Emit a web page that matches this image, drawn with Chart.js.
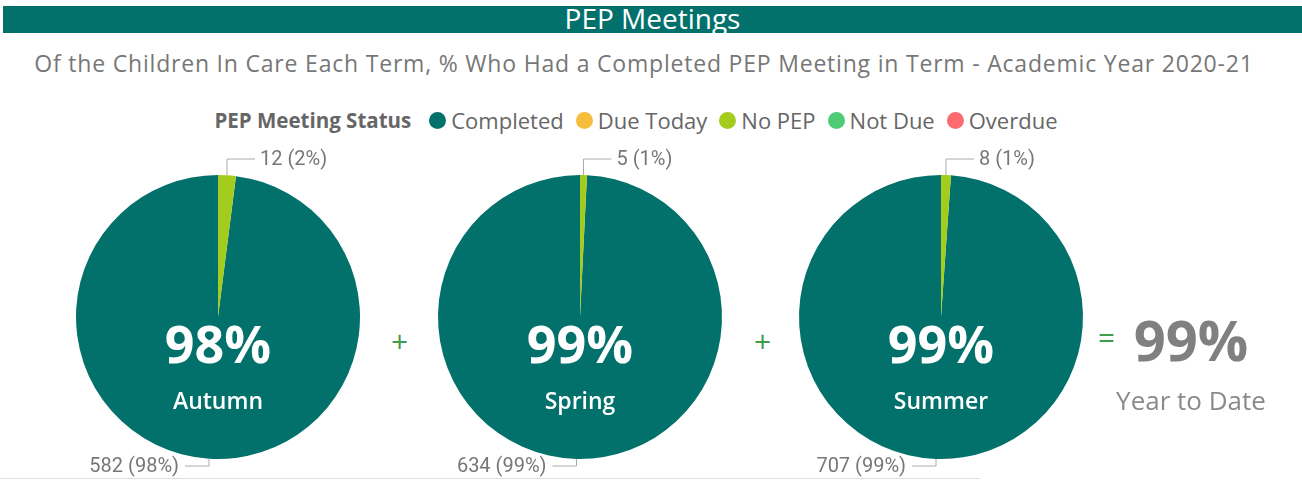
<!DOCTYPE html>
<html>
<head>
<meta charset="utf-8">
<script src="https://cdn.jsdelivr.net/npm/chart.js@4"></script>
<style>
  html, body { margin: 0; padding: 0; background: #fff; }
  body { width: 1302px; height: 481px; position: relative; overflow: hidden; font-family: "Open Sans", sans-serif; }
  #header { position: absolute; left: 3px; top: 6px; width: 1299px; height: 27px; background: #03716B;
            color: #fff; font-size: 28px; line-height: 24px; text-align: center; overflow: visible; }
  #subtitle { position: absolute; left: 0; top: 47px; width: 1288px; text-align: center; color: #777;
              font-size: 23px; letter-spacing: 0.8px; white-space: nowrap; }
  #legend { position: absolute; left: 0; top: 105px; width: 1284px; display: flex; justify-content: center;
            align-items: center; font-size: 22px; color: #666; white-space: nowrap; }
  #legend .ttl { font-weight: bold; font-size: 20.5px; color: #666; margin-right: 18px; }
  #legend .item { display: flex; align-items: center; margin-right: 12px; }
  #legend .dot { width: 17px; height: 17px; border-radius: 50%; margin-right: 5px; }
  canvas { position: absolute; }
  .op { position: absolute; color: #3E9E4B; font-size: 30px; line-height: 30px; }
  #ytd { position: absolute; left: 1100px; top: 304px; width: 182px; text-align: center; color: #808080;
         font-weight: bold; font-size: 56px; line-height: 70px; }
  #ytdLabel { position: absolute; left: 1100px; top: 382px; width: 182px; text-align: center; color: #8a8a8a; font-size: 26px; }
  #rule { position: absolute; left: 0; top: 478px; width: 980px; height: 1px; background: #ddd; }
</style>
</head>
<body>
<div id="header">PEP Meetings</div>
<div id="subtitle">Of the Children In Care Each Term, % Who Had a Completed PEP Meeting in Term - Academic Year 2020-21</div>
<div id="legend"></div>
<canvas id="pie0" width="316" height="340"></canvas>
<canvas id="pie1" width="316" height="340"></canvas>
<canvas id="pie2" width="316" height="340"></canvas>
<div class="op" style="left:391px; top:326px;">+</div>
<div class="op" style="left:754px; top:326px;">+</div>
<div class="op" style="left:1098px; top:322px;">=</div>
<div id="ytd"></div>
<div id="ytdLabel">Year to Date</div>
<div id="rule"></div>
<script>
const terms = ['Autumn', 'Spring', 'Summer'];
const statuses = ['Completed', 'Due Today', 'No PEP', 'Not Due', 'Overdue'];
const statusColors = ['#03716B', '#F5BE3D', '#A3CC1E', '#4FCB73', '#FD6B6F'];
const autumnCounts = [582, 0, 12, 0, 0];
const springCounts = [634, 0, 5, 0, 0];
const summerCounts = [707, 0, 8, 0, 0];
const termCounts = [autumnCounts, springCounts, summerCounts];
const pieCentres = [218, 580, 941];

// legend
const legend = document.getElementById('legend');
legend.innerHTML = '<span class="ttl">PEP Meeting Status</span>' + statuses.map((s, i) =>
  '<span class="item"><span class="dot" style="background:' + statusColors[i] + '"></span>' + s + '</span>').join('');

const sum = arr => arr.reduce((a, b) => a + b, 0);

// leader-line labels outside each slice + centre text
const sliceLabels = {
  id: 'sliceLabels',
  afterDatasetsDraw(chart) {
    const ctx = chart.ctx;
    const data = chart.data.datasets[0].data;
    const total = sum(data);
    const meta = chart.getDatasetMeta(0);
    ctx.save();
    ctx.font = '20px Roboto, sans-serif';
    ctx.textBaseline = 'middle';
    meta.data.forEach((arc, i) => {
      if (!data[i]) return;
      const p = arc.getProps(['x', 'y', 'startAngle', 'endAngle', 'outerRadius'], true);
      const mid = (p.startAngle + p.endAngle) / 2;
      const px = p.x + Math.cos(mid) * p.outerRadius;
      const py = p.y + Math.sin(mid) * p.outerRadius;
      const up = py < p.y;
      const ey = up ? p.y - p.outerRadius - 16 : p.y + p.outerRadius + 7;
      const right = px >= p.x;
      const ex = px + (right ? 28 : -24);
      ctx.strokeStyle = '#aaa';
      ctx.lineWidth = 1;
      ctx.beginPath();
      ctx.moveTo(px, py);
      ctx.lineTo(px, ey);
      ctx.lineTo(ex, ey);
      ctx.stroke();
      ctx.fillStyle = '#777';
      ctx.textAlign = right ? 'left' : 'right';
      const pct = Math.round(data[i] / total * 100);
      ctx.fillText(data[i] + ' (' + pct + '%)', ex + (right ? 5 : -6), ey + 1);
    });
    ctx.restore();
  },
  afterDraw(chart) {
    const ctx = chart.ctx;
    const data = chart.data.datasets[0].data;
    const arc = chart.getDatasetMeta(0).data[0];
    const pct = Math.round(data[0] / sum(data) * 100);
    ctx.save();
    ctx.fillStyle = '#fff';
    ctx.textAlign = 'center';
    ctx.textBaseline = 'middle';
    ctx.font = 'bold 52px "Open Sans", sans-serif';
    ctx.fillText(pct + '%', arc.x, arc.y + 31);
    ctx.font = '600 23px "Open Sans", sans-serif';
    ctx.fillText(chart.options.plugins.termName, arc.x, arc.y + 85);
    ctx.restore();
  }
};

termCounts.forEach((counts, t) => {
  const canvas = document.getElementById('pie' + t);
  canvas.style.left = (pieCentres[t] - 158) + 'px';
  canvas.style.top = '141px';
  const total = sum(counts);
  new Chart(canvas, {
    type: 'pie',
    data: {
      labels: statuses,
      datasets: [{ data: counts, backgroundColor: statusColors, borderWidth: 0 }]
    },
    options: {
      responsive: false,
      animation: false,
      // start the Completed slice where the No PEP slice ends, so No PEP sits just right of 12 o'clock
      rotation: 360 * counts[2] / total,
      layout: { padding: { left: 16, right: 16, top: 34, bottom: 22 } },
      plugins: {
        legend: { display: false },
        tooltip: { enabled: false },
        termName: terms[t]
      }
    },
    plugins: [sliceLabels]
  });
});

const completedAll = sum(termCounts.map(c => c[0]));
const totalAll = sum(termCounts.map(sum));
document.getElementById('ytd').textContent = Math.round(completedAll / totalAll * 100) + '%';
</script>
</body>
</html>
